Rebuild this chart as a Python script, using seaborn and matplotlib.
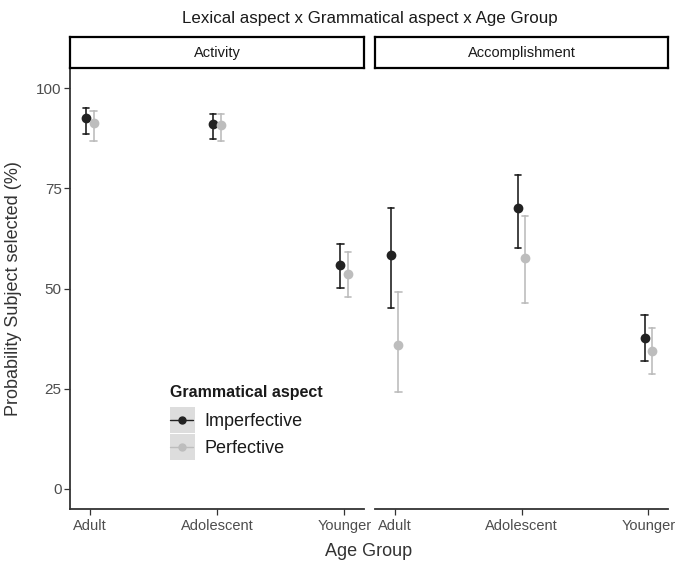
import numpy as np
import pandas as pd
import matplotlib
matplotlib.use("Agg")
import matplotlib.pyplot as plt
from matplotlib.lines import Line2D
from matplotlib.patches import Rectangle
import seaborn as sns

# ---------------- data ----------------
age_groups = ["Adult", "Adolescent", "Younger"]
lexical_aspects = ["Activity", "Accomplishment"]
gram_aspects = ["Imperfective", "Perfective"]

activity_imperf_mean = [92.5, 91.0, 55.9]
activity_imperf_low = [88.5, 87.3, 50.2]
activity_imperf_high = [95.1, 93.6, 61.1]
activity_perf_mean = [91.3, 90.7, 53.6]
activity_perf_low = [86.8, 86.8, 47.8]
activity_perf_high = [94.3, 93.6, 59.1]

accomp_imperf_mean = [58.3, 70.1, 37.7]
accomp_imperf_low = [45.2, 60.2, 31.9]
accomp_imperf_high = [70.0, 78.3, 43.4]
accomp_perf_mean = [35.9, 57.7, 34.4]
accomp_perf_low = [24.3, 46.3, 28.7]
accomp_perf_high = [49.2, 68.1, 40.1]

y_ticks = [0, 25, 50, 75, 100]

series = {
    ("Activity", "Imperfective"): (activity_imperf_low, activity_imperf_mean, activity_imperf_high),
    ("Activity", "Perfective"): (activity_perf_low, activity_perf_mean, activity_perf_high),
    ("Accomplishment", "Imperfective"): (accomp_imperf_low, accomp_imperf_mean, accomp_imperf_high),
    ("Accomplishment", "Perfective"): (accomp_perf_low, accomp_perf_mean, accomp_perf_high),
}

rows = []
for (lex, gram), (lo, mid, hi) in series.items():
    for i, ag in enumerate(age_groups):
        for v in (lo[i], mid[i], hi[i]):
            rows.append({"lexical": lex, "aspect": gram, "age": ag, "value": v})
df = pd.DataFrame(rows)

# ---------------- style ----------------
sns.set_theme(style="white")
plt.rcParams["font.family"] = ["Liberation Sans", "DejaVu Sans"]

palette = {"Imperfective": "#222222", "Perfective": "#bdbdbd"}
W, H = 678, 564
fig = plt.figure(figsize=(W / 100, H / 100), dpi=100)

def fx(px):
    return px / W

def fy(py):
    return 1 - py / H

panels = [(70, 364), (375, 668)]
top, bottom = 68, 509
strip_top = 37

axes = []
for k, (lex, (x0, x1)) in enumerate(zip(lexical_aspects, panels)):
    ax = fig.add_axes([fx(x0), fy(bottom), fx(x1) - fx(x0), (bottom - top) / H])
    sub = df[df["lexical"] == lex]
    sns.pointplot(data=sub, x="age", y="value", hue="aspect",
                  order=age_groups, hue_order=gram_aspects, palette=palette,
                  estimator="median", errorbar=("pi", 100),
                  dodge=0.06, linestyle="none", markers="o",
                  markersize=5.0, capsize=0.05,
                  err_kws={"linewidth": 1.2}, legend=False, ax=ax)
    ax.set_xlim(-0.155, 2.155)
    ax.set_ylim(-5, 105)
    ax.set_yticks(y_ticks)
    ax.set_xlabel("")
    ax.set_ylabel("")
    for s in ["top", "right"]:
        ax.spines[s].set_visible(False)
    ax.spines["bottom"].set_color("#333333")
    ax.spines["bottom"].set_linewidth(1.3)
    if k == 0:
        ax.spines["left"].set_color("#333333")
        ax.spines["left"].set_linewidth(1.3)
        ax.tick_params(axis="y", length=4, width=0.9, color="#333333",
                       labelsize=11, labelcolor="#4d4d4d", pad=2, left=True)
    else:
        ax.spines["left"].set_visible(False)
        ax.tick_params(axis="y", left=False, labelleft=False)
    ax.tick_params(axis="x", length=4, width=0.9, color="#333333",
                   labelsize=10.5, labelcolor="#4d4d4d", pad=3, bottom=True)
    ax.grid(False)
    ax.set_facecolor("white")
    # strip
    sax = fig.add_axes([fx(x0), fy(top), fx(x1) - fx(x0), (top - strip_top) / H])
    sax.set_xticks([])
    sax.set_yticks([])
    for s in sax.spines.values():
        s.set_color("black")
        s.set_linewidth(1.6)
    sax.set_facecolor("white")
    sax.text(0.5, 0.5, lex, ha="center", va="center", fontsize=10.5,
             color="#1a1a1a", transform=sax.transAxes)
    axes.append(ax)

fig.text(fx(370), fy(18), "Lexical aspect x Grammatical aspect x Age Group",
         ha="center", va="center", fontsize=12.2, color="#1a1a1a")
fig.text(fx(369), fy(551), "Age Group", ha="center", va="center",
         fontsize=13, color="#333333")
fig.text(fx(14), fy(289), "Probability Subject selected (%)", ha="center",
         va="center", rotation=90, fontsize=13, color="#333333")

# legend key backgrounds
for ytop in (407, 434):
    fig.patches.append(Rectangle((fx(170), fy(ytop + 26)), 25 / W, 26 / H,
                                 transform=fig.transFigure, facecolor="#dddddd",
                                 edgecolor="none", zorder=0))

fig.text(fx(170), fy(392), "Grammatical aspect", ha="left", va="center",
         fontsize=11.5, fontweight="bold", color="#1a1a1a")

handles = [Line2D([0], [0], color=palette[g], marker="o", markersize=5.0,
                  linewidth=1.0) for g in gram_aspects]
leg = fig.legend(handles, gram_aspects,
                 loc="upper left", bbox_to_anchor=(fx(170), fy(413)),
                 frameon=False, fontsize=13, handlelength=1.3,
                 labelspacing=0.58, handletextpad=0.6,
                 borderpad=0, borderaxespad=0)
for t in leg.get_texts():
    t.set_color("#1a1a1a")

fig.savefig("out.png", dpi=100)
